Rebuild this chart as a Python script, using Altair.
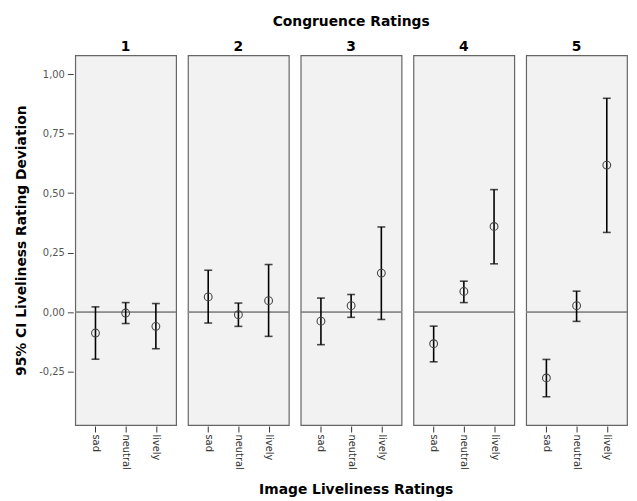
import altair as alt
import pandas as pd

congruence = [1, 1, 1, 2, 2, 2, 3, 3, 3, 4, 4, 4, 5, 5, 5]
images = ["sad", "neutral", "lively"] * 5
means = [-0.088, -0.004, -0.060,
         0.064, -0.011, 0.048,
         -0.038, 0.027, 0.164,
         -0.133, 0.087, 0.360,
         -0.277, 0.027, 0.618]
lows = [-0.198, -0.048, -0.154,
        -0.046, -0.060, -0.102,
        -0.137, -0.022, -0.031,
        -0.209, 0.040, 0.203,
        -0.356, -0.039, 0.335]
highs = [0.022, 0.040, 0.036,
         0.176, 0.038, 0.200,
         0.059, 0.074, 0.358,
         -0.059, 0.130, 0.515,
         -0.199, 0.088, 0.899]
y_ticks = [-0.25, 0.0, 0.25, 0.5, 0.75, 1.0]
image_order = ["sad", "neutral", "lively"]

df = pd.DataFrame({"congruence": congruence, "image": images,
                   "mean": means, "lo": lows, "hi": highs})

FONT = "DejaVu Sans"

x_enc = alt.X("image:N", sort=image_order, title=None,
              scale=alt.Scale(type="point", padding=0.67),
              axis=alt.Axis(labelAngle=90, labelFontSize=10, labelColor="#333",
                            labelFont=FONT, tickColor="#333", tickSize=6,
                            domain=False, labelPadding=2))
y_scale = alt.Scale(domain=[-0.475, 1.08], nice=False, zero=False)
y_axis = alt.Axis(values=y_ticks, grid=False, domain=False, tickSize=6,
                  tickColor="#444", labelColor="#555", labelFontSize=10,
                  labelFont=FONT, labelPadding=3,
                  labelExpr="replace(replace(format(datum.value, '.2f'), '.', ','), '\u2212', '-')",
                  title="95% CI Liveliness Rating Deviation", titleFontSize=14,
                  titleFont=FONT, titleFontWeight="bold", titleColor="black",
                  titlePadding=10)

base = alt.Chart()

zero = base.mark_rule(color="#888", strokeWidth=1).encode(
    y=alt.datum(0, scale=y_scale, axis=y_axis)
)
bars = base.mark_rule(color="black", strokeWidth=1.6).encode(
    x=x_enc,
    y=alt.Y("lo:Q", scale=y_scale, axis=y_axis),
    y2="hi:Q"
)
cap_lo = base.mark_tick(color="black", thickness=1.6, size=8, orient="horizontal").encode(
    x=x_enc, y=alt.Y("lo:Q", scale=y_scale, axis=y_axis)
)
cap_hi = base.mark_tick(color="black", thickness=1.6, size=8, orient="horizontal").encode(
    x=x_enc, y=alt.Y("hi:Q", scale=y_scale, axis=y_axis)
)
points = base.mark_point(shape="circle", filled=False, color="#444",
                         size=62, strokeWidth=1.1, opacity=1).encode(
    x=x_enc, y=alt.Y("mean:Q", scale=y_scale, axis=y_axis)
)

layered = alt.layer(zero, bars, cap_lo, cap_hi, points, data=df).properties(
    width=102, height=374
)

chart = layered.facet(
    column=alt.Column("congruence:O", header=alt.Header(
        title="Congruence Ratings", titleFontSize=14, titleFont=FONT,
        titleFontWeight="bold", titleColor="black", titlePadding=2,
        labelFontSize=14, labelFont=FONT, labelFontWeight="bold",
        labelColor="black", labelPadding=0)),
    spacing=8
).properties(
    title=alt.TitleParams("Image Liveliness Ratings", orient="bottom",
                          anchor="middle", fontSize=14, font=FONT,
                          fontWeight="bold", color="black", offset=14, dx=35),
    padding={"left": 7, "top": 4, "right": 0, "bottom": 0}
).configure_view(
    fill="#f2f2f2", stroke="#666", strokeWidth=1.2
)

chart.save("out.html", embed_options={"renderer": "svg", "actions": False})
